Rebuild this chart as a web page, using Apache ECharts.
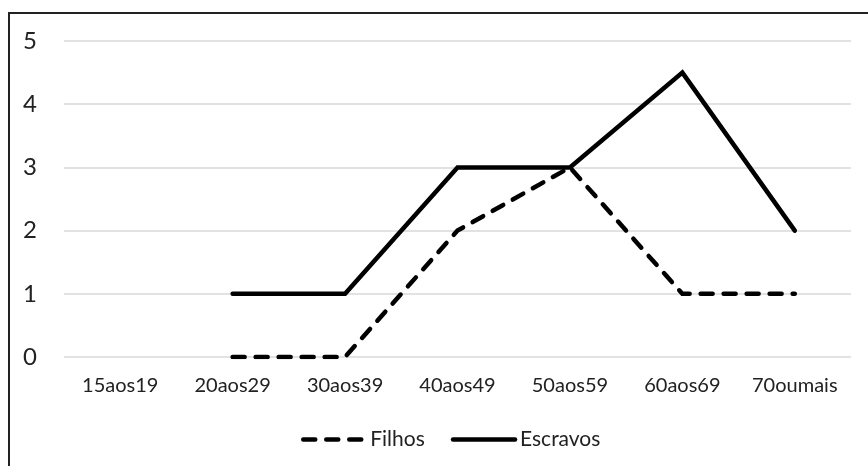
<!DOCTYPE html>
<html>
<head>
<meta charset="utf-8">
<script src="https://cdn.jsdelivr.net/npm/echarts@6/dist/echarts.min.js"></script>
<style>
html,body{margin:0;padding:0;background:#fff;}
#c{width:868px;height:466px;}
</style>
</head>
<body>
<div id="c"></div>
<script>
const categories = ['15aos19','20aos29','30aos39','40aos49','50aos59','60aos69','70oumais'];
const filhos = [null, 0, 0, 2, 3, 1, 1];
const escravos = [null, 1, 1, 3, 3, 4.5, 2];
const yTicks = [0, 1, 2, 3, 4, 5];

const FONT = 'Lato';
const chart = echarts.init(document.getElementById('c'), null, {renderer: 'canvas'});
chart.setOption({
  animation: false,
  backgroundColor: '#fff',
  textStyle: {fontFamily: FONT, color: '#222'},
  graphic: [{
    type: 'rect',
    shape: {x: 9, y: 13, width: 1000, height: 1000},
    style: {fill: 'none', stroke: '#222', lineWidth: 2},
    silent: true
  }],
  grid: {left: 64, right: 17, top: 41, bottom: 109, containLabel: false},
  xAxis: {
    type: 'category',
    data: categories,
    boundaryGap: true,
    axisLine: {show: false},
    axisTick: {show: false},
    axisLabel: {fontFamily: FONT, fontSize: 20, color: '#222', margin: 19, interval: 0}
  },
  yAxis: {
    type: 'value',
    min: yTicks[0],
    max: yTicks[yTicks.length - 1],
    interval: 1,
    axisLine: {show: false},
    axisTick: {show: false},
    axisLabel: {fontFamily: FONT, fontSize: 24, color: '#222', margin: 27},
    splitLine: {lineStyle: {color: '#d9d9d9', width: 1.5}}
  },
  legend: {
    data: ['Filhos', 'Escravos'],
    left: 296,
    top: 424,
    itemWidth: 62,
    itemHeight: 22,
    itemGap: 26,
    itemStyle: {color: 'transparent', borderColor: 'transparent', borderWidth: 0},
    lineStyle: {width: 4.5, color: '#000', cap: 'round'},
    textStyle: {fontFamily: FONT, fontSize: 21, color: '#222'}
  },
  series: [
    {
      name: 'Filhos',
      type: 'line',
      data: filhos,
      symbol: 'none',
      connectNulls: false,
      lineStyle: {color: '#000', width: 4.5, type: [12, 11], cap: 'round', join: 'miter'},
      itemStyle: {color: '#000'}
    },
    {
      name: 'Escravos',
      type: 'line',
      data: escravos,
      symbol: 'none',
      connectNulls: false,
      lineStyle: {color: '#000', width: 4.5, type: 'solid', cap: 'round', join: 'miter'},
      itemStyle: {color: '#000'}
    }
  ]
});
</script>
</body>
</html>
